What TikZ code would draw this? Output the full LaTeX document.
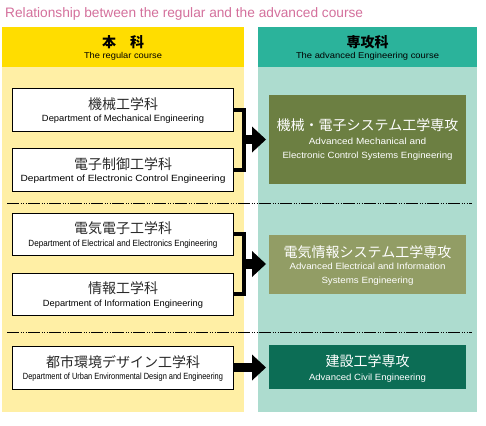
\documentclass[tikz,border=0pt]{standalone}
\usepackage{fontspec}
\usepackage{graphicx}
\setmainfont{Liberation Sans}
\newfontfamily\jpfont{Noto Sans CJK JP}
\usetikzlibrary{arrows.meta,calc}
\definecolor{titlepink}{HTML}{D4709C}
\definecolor{hdrY}{HTML}{FFDD00}
\definecolor{panY}{HTML}{FFEFA5}
\definecolor{hdrT}{HTML}{2BB39B}
\definecolor{panT}{HTML}{ADDCCF}
\definecolor{oliveA}{HTML}{6C7F42}
\definecolor{oliveB}{HTML}{929D65}
\definecolor{greenC}{HTML}{0C6D55}
\definecolor{jpgray}{HTML}{2A2A2A}
\newcommand{\ew}[2]{\resizebox{#1}{\height}{#2}}
\tikzset{
  lbox/.style={draw=black, fill=white, line width=0.8pt, minimum width=221pt, inner sep=0pt, outer sep=0pt},
  rbox/.style={draw=none, minimum width=197pt, inner sep=0pt, outer sep=0pt},
  jp/.style={font=\jpfont\fontsize{14}{16}\selectfont, text=jpgray, inner sep=0pt, anchor=base},
  jpw/.style={font=\jpfont\fontsize{14}{16}\selectfont, text=white, inner sep=0pt, anchor=base},
  jph/.style={font=\jpfont\bfseries\fontsize{14}{16}\selectfont, text=black, inner sep=0pt, anchor=base},
  en/.style={font=\fontsize{9}{11}\selectfont, text=black, inner sep=0pt, anchor=base},
  enw/.style={font=\fontsize{9}{11}\selectfont, text=white, inner sep=0pt, anchor=base},
  enh/.style={font=\fontsize{8.5}{10}\selectfont, text=black, inner sep=0pt, anchor=base},
  brk/.style={draw=black, line width=4pt},
  bigarr/.style={draw=black, line width=9.5pt, -{Triangle[length=14pt,width=26pt,line width=0pt]}, shorten >=3pt},
  sepline/.style={draw=black, line width=0.7pt, dash pattern=on 12pt off 1.5pt on 1pt off 1.5pt on 1pt off 1.5pt on 1pt off 1.5pt}
}
\begin{document}
\begin{tikzpicture}[x=1pt,y=-1pt]
\useasboundingbox (0,0) rectangle (486,425);
\fill[white] (0,0) rectangle (486,425);
% title
\node[anchor=base west, font=\fontsize{13.7}{16}\selectfont, text=titlepink, inner sep=0pt] (title) at (5,17.5) {Relationship between the regular and the advanced course};
% panels
\fill[panY] (2,67) rectangle (244,412);
\fill[hdrY] (2,27) rectangle (244,67);
\fill[panT] (258,67) rectangle (477,412);
\fill[hdrT] (258,27) rectangle (477,67);
% headers
\node[jph] (hL) at (123,48) {本　科};
\node[enh] (hLe) at (123,59) {\ew{78pt}{The regular course}};
\node[jph] (hR) at (367.5,48) {専攻科};
\node[enh] (hRe) at (367.5,59) {\ew{143pt}{The advanced Engineering course}};
% separators
\draw[sepline] (7,203.5) -- (472,203.5);
\draw[sepline] (7,332) -- (472,332);
% left boxes
\node[lbox, minimum height=43pt] (b1) at (123,109.5) {};
\node[lbox, minimum height=43pt] (b2) at (123,169.5) {};
\node[lbox, minimum height=42pt] (b3) at (123,234) {};
\node[lbox, minimum height=42pt] (b4) at (123,294) {};
\node[lbox, minimum height=43pt] (b5) at (123,367.5) {};
\node[jp] (b1j) at ($(b1.center)+(0,-0.5)$) {機械工学科};
\node[en] (b1e) at ($(b1.center)+(0,12)$) {\ew{162pt}{Department of Mechanical Engineering}};
\node[jp] (b2j) at ($(b2.center)+(0,-0.5)$) {電子制御工学科};
\node[en] (b2e) at ($(b2.center)+(0,12)$) {\ew{205pt}{Department of Electronic Control Engineering}};
\node[jp] (b3j) at ($(b3.center)+(0,-0.5)$) {電気電子工学科};
\node[en] (b3e) at ($(b3.center)+(0,12)$) {\ew{189pt}{Department of Electrical and Electronics Engineering}};
\node[jp] (b4j) at ($(b4.center)+(0,-0.5)$) {情報工学科};
\node[en] (b4e) at ($(b4.center)+(0,12)$) {\ew{160pt}{Department of Information Engineering}};
\node[jp] (b5j) at ($(b5.center)+(0,-0.5)$) {都市環境デザイン工学科};
\node[en] (b5e) at ($(b5.center)+(0,12)$) {\ew{200pt}{Department of Urban Environmental Design and Engineering}};
% right boxes
\node[rbox, fill=oliveA, minimum height=89pt] (ra) at (367.5,139.5) {};
\node[rbox, fill=oliveB, minimum height=59pt] (rb) at (367.5,264.5) {};
\node[rbox, fill=greenC, minimum height=44pt] (rc) at (367.5,367) {};
\node[jpw] (raj) at ($(ra.center)+(0,-9.2)$) {機械・電子システム工学専攻};
\node[enw] (rae1) at ($(ra.center)+(0,5.4)$) {\ew{117.5pt}{Advanced Mechanical and}};
\node[enw] (rae2) at ($(ra.center)+(0,18.7)$) {\ew{170pt}{Electronic Control Systems Engineering}};
\node[jpw] (rbj) at ($(rb.center)+(0,-7.2)$) {電気情報システム工学専攻};
\node[enw] (rbe1) at ($(rb.center)+(0,4.7)$) {\ew{156pt}{Advanced Electrical and Information}};
\node[enw] (rbe2) at ($(rb.center)+(0,18.7)$) {\ew{92pt}{Systems Engineering}};
\node[jpw] (rcj) at ($(rc.center)+(0,-0.2)$) {建設工学専攻};
\node[enw] (rce) at ($(rc.center)+(0,13.2)$) {\ew{117pt}{Advanced Civil Engineering}};
% brackets and arrows
\coordinate (j1) at (244,139.5);
\coordinate (j2) at (244,264);
\draw[brk] (b1.east) -| (j1) |- (b2.east);
\draw[brk] (b3.east) -| (j2) |- (b4.east);
\draw[bigarr] (j1) -- (j1 -| ra.west);
\draw[bigarr] (j2) -- (j2 -| rb.west);
\draw[bigarr] (b5.east) -- (b5.east -| rc.west);
\end{tikzpicture}
\end{document}
